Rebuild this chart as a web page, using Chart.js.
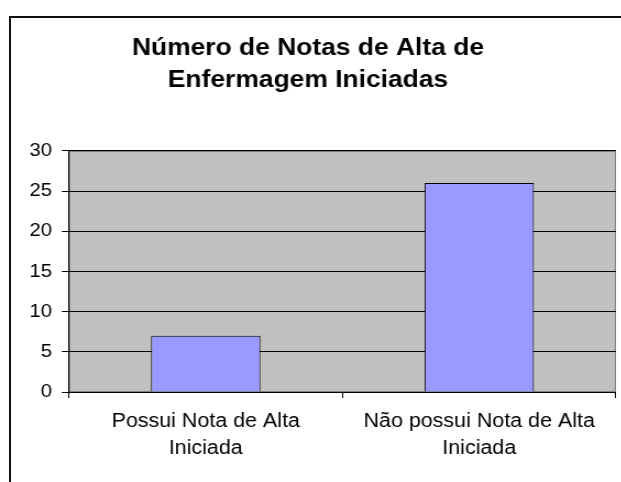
<!DOCTYPE html>
<html>
<head>
<meta charset="utf-8">
<script src="https://cdn.jsdelivr.net/npm/chart.js@4/dist/chart.umd.min.js"></script>
<style>
  html, body { margin: 0; padding: 0; background: #fff; overflow: hidden; width: 621px; height: 482px; }
  #frame { position: absolute; left: 9px; top: 16px; width: 700px; height: 600px; border: 2px solid #111; box-sizing: border-box; }
  /* chart drawn in a slightly narrower space and widened horizontally */
  #wrap { position: absolute; left: 0; top: 0; width: 585.45px; height: 482px; transform: scaleX(1.1); transform-origin: 0 0; }
</style>
</head>
<body>
<div id="frame"></div>
<div id="wrap"><canvas id="c"></canvas></div>
<script>
const titleLines = ["Número de Notas de Alta de", "Enfermagem Iniciadas"];
const categories = [["Possui Nota de Alta", "Iniciada"], ["Não possui Nota de Alta", "Iniciada"]];
const values = [7, 26];
const yMin = 0;
const yMax = 30;
const yStep = 5;

const FONT = "'Liberation Sans', Arial, Helvetica, sans-serif";

// gray plot area with a gray frame, painted under the grid and bars
const plotBackground = {
  id: 'plotBackground',
  beforeDraw(chart) {
    const { ctx, chartArea: a } = chart;
    ctx.save();
    ctx.fillStyle = '#C0C0C0';
    ctx.fillRect(a.left, a.top, a.right - a.left, a.bottom - a.top);
    ctx.strokeStyle = '#808080';
    ctx.lineWidth = 1;
    ctx.strokeRect(a.left + 0.5, a.top + 0.5, a.right - a.left - 1, a.bottom - a.top - 1);
    ctx.restore();
  }
};

new Chart(document.getElementById('c'), {
  type: 'bar',
  data: {
    labels: categories,
    datasets: [{
      data: values,
      backgroundColor: '#9999FF',
      borderColor: '#000000',
      borderWidth: 1,
      barPercentage: 0.4,
      categoryPercentage: 1.0
    }]
  },
  options: {
    responsive: true,
    maintainAspectRatio: false,
    animation: false,
    layout: { padding: { left: 0, right: 25.45, top: 0, bottom: 0 } },
    plugins: {
      legend: { display: false },
      tooltip: { enabled: false },
      title: {
        display: true,
        text: titleLines,
        color: '#000',
        font: { family: FONT, size: 24, weight: 'bold', lineHeight: 1.333 },
        padding: { top: 32, bottom: 55 }
      }
    },
    scales: {
      x: {
        afterFit(scale) { scale.height = 90; },
        grid: {
          display: true,
          drawOnChartArea: false,
          drawTicks: true,
          tickLength: 6,
          tickColor: '#000',
          color: '#000',
          offset: true
        },
        border: { display: true, color: '#000', width: 1 },
        ticks: {
          color: '#000',
          padding: 10.5,
          maxRotation: 0,
          autoSkip: false,
          font: { family: FONT, size: 19.5, lineHeight: 1.385 }
        }
      },
      y: {
        min: yMin,
        max: yMax,
        afterFit(scale) { scale.width = 62.7; },
        grid: {
          color: '#000',
          tickColor: '#000',
          tickLength: 6.4,
          lineWidth: 1
        },
        border: { display: true, color: '#000', width: 1 },
        ticks: {
          stepSize: yStep,
          color: '#000',
          padding: 9,
          font: { family: FONT, size: 18.5 }
        }
      }
    }
  },
  plugins: [plotBackground]
});
</script>
</body>
</html>
